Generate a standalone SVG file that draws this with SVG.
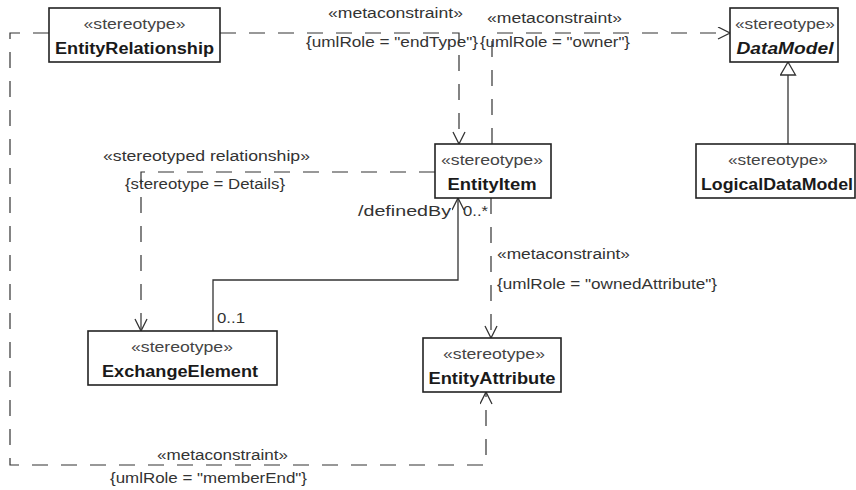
<svg xmlns="http://www.w3.org/2000/svg" width="856" height="490" viewBox="0 0 856 490">
<style>
.box{fill:#fff;stroke:#222;stroke-width:1.6}
.st{font-family:"Liberation Sans",Arial,sans-serif;font-size:14px;fill:#444;text-anchor:middle}
.nm{font-family:"Liberation Sans",Arial,sans-serif;font-size:16px;font-weight:bold;fill:#1a1a1a;text-anchor:middle}
.lb{font-family:"Liberation Sans",Arial,sans-serif;font-size:14px;fill:#333}
.dash{fill:none;stroke:#333;stroke-width:1.2;stroke-dasharray:16 13}
.solid{fill:none;stroke:#333;stroke-width:1.3}
</style>
<defs>
<marker id="open" markerUnits="userSpaceOnUse" markerWidth="14" markerHeight="14" refX="13" refY="6.5" orient="auto">
<path d="M1,0.5 L13,6.5 L1,12.5" fill="none" stroke="#333" stroke-width="1.3"/>
</marker>
<marker id="tri" markerUnits="userSpaceOnUse" markerWidth="16" markerHeight="18" refX="14" refY="8" orient="auto">
<path d="M1,0.5 L14,8 L1,15.5 Z" fill="#fff" stroke="#333" stroke-width="1.3"/>
</marker>
</defs>

<g id="connectors">
<path id="c1" class="dash" d="M49,33 H10 V465 H486 V392" marker-end="url(#open)"/>
<path id="c2" class="dash" d="M220,33 H459 V144" marker-end="url(#open)"/>
<path id="c3" class="dash" d="M492,144 V33 H730" marker-end="url(#open)"/>
<path id="c4" class="solid" d="M788,144 V62" marker-end="url(#tri)"/>
<path id="c5" class="dash" d="M435,172 H141 V331" marker-end="url(#open)"/>
<path id="c6" class="solid" d="M213,331 V280 H458 V198" marker-end="url(#open)"/>
<path id="c7" class="dash" d="M491,198 V338" marker-end="url(#open)"/>

<text class="lb" x="328" y="18" textLength="135" lengthAdjust="spacingAndGlyphs">«metaconstraint»</text>
<text class="lb" x="306" y="47" textLength="172" lengthAdjust="spacingAndGlyphs">{umlRole = "endType"}</text>
<text class="lb" x="487" y="23" textLength="135" lengthAdjust="spacingAndGlyphs">«metaconstraint»</text>
<text class="lb" x="480" y="47" textLength="150" lengthAdjust="spacingAndGlyphs">{umlRole = "owner"}</text>
<text class="lb" x="103" y="161" textLength="207" lengthAdjust="spacingAndGlyphs">«stereotyped relationship»</text>
<text class="lb" x="125" y="189" textLength="160" lengthAdjust="spacingAndGlyphs">{stereotype = Details}</text>
<text class="lb" x="358" y="216" textLength="93" lengthAdjust="spacingAndGlyphs">/definedBy</text>
<text class="lb" x="463" y="216" textLength="25" lengthAdjust="spacingAndGlyphs">0..*</text>
<text class="lb" x="217" y="323" textLength="28" lengthAdjust="spacingAndGlyphs">0..1</text>
<text class="lb" x="497" y="259" textLength="133" lengthAdjust="spacingAndGlyphs">«metaconstraint»</text>
<text class="lb" x="497" y="289" textLength="220" lengthAdjust="spacingAndGlyphs">{umlRole = "ownedAttribute"}</text>
<text class="lb" x="157" y="460" textLength="131" lengthAdjust="spacingAndGlyphs">«metaconstraint»</text>
<text class="lb" x="110" y="483" textLength="197" lengthAdjust="spacingAndGlyphs">{umlRole = "memberEnd"}</text>
</g>

<g id="EntityRelationship">
<rect class="box" x="49" y="8" width="171" height="54"/>
<text class="st" x="134.5" y="29" textLength="102" lengthAdjust="spacingAndGlyphs">«stereotype»</text>
<text class="nm" x="134.5" y="54" textLength="159" lengthAdjust="spacingAndGlyphs">EntityRelationship</text>
</g>

<g id="DataModel">
<rect class="box" x="730" y="8" width="108" height="54"/>
<text class="st" x="785" y="29" textLength="100" lengthAdjust="spacingAndGlyphs">«stereotype»</text>
<text class="nm" x="785" y="54" font-style="italic" textLength="97" lengthAdjust="spacingAndGlyphs">DataModel</text>
</g>

<g id="LogicalDataModel">
<rect class="box" x="696" y="144" width="159" height="54"/>
<text class="st" x="778" y="165" textLength="100" lengthAdjust="spacingAndGlyphs">«stereotype»</text>
<text class="nm" x="777" y="190" textLength="152" lengthAdjust="spacingAndGlyphs">LogicalDataModel</text>
</g>

<g id="EntityItem">
<rect class="box" x="435" y="144" width="116" height="54"/>
<text class="st" x="492" y="165" textLength="102" lengthAdjust="spacingAndGlyphs">«stereotype»</text>
<text class="nm" x="492" y="190" textLength="89" lengthAdjust="spacingAndGlyphs">EntityItem</text>
</g>

<g id="ExchangeElement">
<rect class="box" x="88" y="331" width="189" height="54"/>
<text class="st" x="182" y="352" textLength="102" lengthAdjust="spacingAndGlyphs">«stereotype»</text>
<text class="nm" x="180" y="377" textLength="156" lengthAdjust="spacingAndGlyphs">ExchangeElement</text>
</g>

<g id="EntityAttribute">
<rect class="box" x="423" y="338" width="138" height="54"/>
<text class="st" x="494" y="359" textLength="102" lengthAdjust="spacingAndGlyphs">«stereotype»</text>
<text class="nm" x="492" y="384" textLength="127" lengthAdjust="spacingAndGlyphs">EntityAttribute</text>
</g>
</svg>
